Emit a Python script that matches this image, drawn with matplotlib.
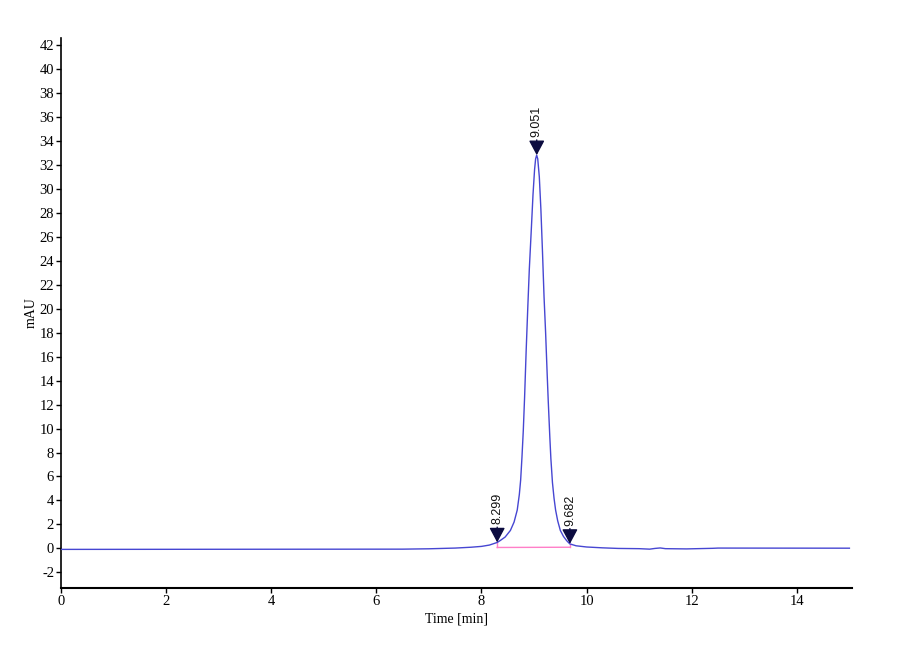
import numpy as np
import matplotlib
matplotlib.use("Agg")
import matplotlib.pyplot as plt

plt.rcParams["axes.unicode_minus"] = False

# chromatogram trace (time [min], mAU)
time_min = [0.00, 6.50, 7.00, 7.50, 7.80, 8.00, 8.15, 8.30, 8.36, 8.45, 8.55, 8.62,
            8.68, 8.72, 8.745, 8.77, 8.795, 8.82, 8.85, 8.88, 8.91, 8.95, 8.98, 9.01,
            9.03, 9.05, 9.07, 9.10, 9.13, 9.16, 9.19, 9.22, 9.25, 9.27, 9.30, 9.32,
            9.35, 9.38, 9.41, 9.45, 9.50, 9.56, 9.62, 9.68, 9.80, 10.00, 10.30, 10.60,
            11.00, 11.20, 11.30, 11.40, 11.50, 11.90, 12.40, 12.50, 15.00]
signal = [-0.08, -0.06, -0.03, 0.03, 0.10, 0.17, 0.28, 0.50, 0.67, 0.95, 1.50, 2.20,
          3.20, 4.50, 5.70, 7.60, 9.80, 12.60, 16.50, 20.00, 23.30, 26.80, 29.50, 31.60,
          32.50, 32.80, 32.50, 31.00, 28.30, 24.80, 21.00, 18.00, 14.50, 12.30, 9.30, 7.50,
          5.50, 4.20, 3.20, 2.30, 1.50, 1.00, 0.65, 0.38, 0.22, 0.12, 0.05, 0.00,
          -0.02, -0.06, 0.00, 0.04, -0.02, -0.04, 0.01, 0.03, 0.02]

# peak marks
peak_times = [8.299, 9.051, 9.682]
peak_heights = [0.50, 32.80, 0.38]
peak_labels = ["8.299", "9.051", "9.682"]

# integration baseline
base_times = [8.299, 9.682]
base_levels = [0.08, 0.10]

xticks = np.arange(0, 15, 2)
yticks = np.arange(-2, 43, 2)

fig = plt.figure(figsize=(9, 6.6), dpi=100)
ax = fig.add_axes([0.0678, 0.1091, 0.8789, 0.8338])

ax.plot(time_min, signal, color="#4646d2", lw=1.0, zorder=3)
ax.plot(base_times, base_levels, color="#ff7fc8", lw=1.0, zorder=2)
for t, b, h in zip(base_times, base_levels, [peak_heights[0], peak_heights[2]]):
    ax.plot([t, t], [b, h], color="#ff7fc8", lw=1.0, zorder=2)

for t, h, lab in zip(peak_times, peak_heights, peak_labels):
    ax.annotate(lab, xy=(t, h), xytext=(0, 13), textcoords="offset points",
                rotation=90, ha="center", va="bottom", fontsize=9,
                family="Liberation Sans", color="#111111",
                arrowprops=dict(arrowstyle="-|>,head_length=0.45,head_width=0.24",
                                color="#0c0c40", lw=1.0, mutation_scale=20,
                                shrinkA=0, shrinkB=0), zorder=4)

ax.set_xlim(0, 15.05)
ax.set_ylim(-3.3, 42.6)
ax.set_xticks(xticks)
ax.set_yticks(yticks)
ax.tick_params(direction="out", length=3.5, width=1, labelsize=10.5, pad=1.5)
for lab in ax.get_xticklabels() + ax.get_yticklabels():
    lab.set_family("Liberation Serif")

ax.spines["top"].set_visible(False)
ax.spines["right"].set_visible(False)
ax.spines["bottom"].set_linewidth(1.5)
ax.spines["left"].set_linewidth(1.2)

ax.set_xlabel("Time [min]", family="Liberation Serif", fontsize=10, labelpad=3)
ax.set_ylabel("mAU", family="Liberation Serif", fontsize=10)
ax.yaxis.set_label_coords(-0.03, 0.5)

fig.savefig("out.png", dpi=100)
